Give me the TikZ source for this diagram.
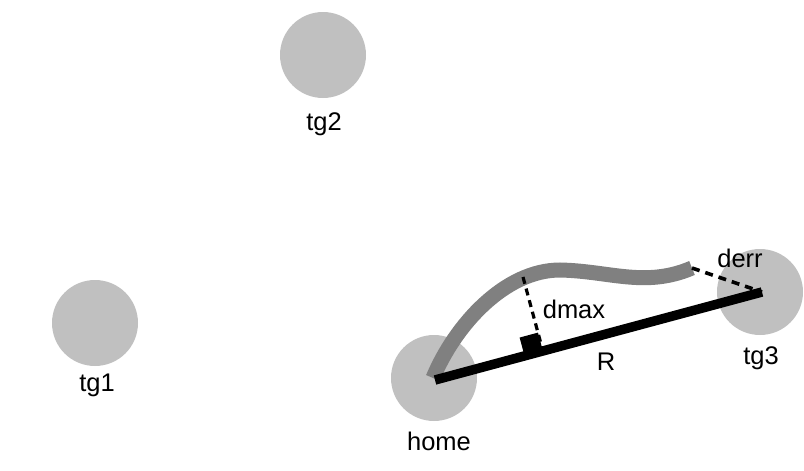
\documentclass[tikz,border=0pt]{standalone}
\usepackage{fontspec}
\setmainfont{Liberation Sans}
\usetikzlibrary{calc}
\definecolor{dotgray}{RGB}{192,192,192}
\definecolor{pathgray}{RGB}{128,128,128}
\tikzset{
  target/.style={circle,fill=dotgray,draw=none,minimum size=86pt,inner sep=0pt},
  lbl/.style={inner sep=0pt,font=\fontsize{25.5}{25.5}\selectfont},
  pathline/.style={draw=pathgray,line width=15pt},
  rline/.style={draw=black,line width=9.5pt},
  dashline/.style={draw=black,line width=3.2pt,dash pattern=on 7pt off 5pt},
}
\begin{document}
\begin{tikzpicture}[x=1pt,y=-1pt]
\useasboundingbox (0,0) rectangle (804,471);
% targets
\node[target] (tg2) at (323,55) {};
\node[target] (tg1) at (95,323) {};
\node[target] (home) at (434,378) {};
\node[target] (tg3) at (760,292) {};
\node[lbl] (tg2l) at (324,124) {tg2};
\node[lbl] (tg1l) at (97,385) {tg1};
\node[lbl] (homel) at (439,441) {home};
\node[lbl] (tg3l) at (761,358) {tg3};
% key points
\coordinate (hp) at (435,380);
\coordinate (tp) at (762,292);
\coordinate (cs) at (433,378);
\coordinate (cm) at (560,270);
\coordinate (ce) at (692,268);
\coordinate (dtop) at (523,277);
% travelled path
\draw[pathline] (cs) .. controls (455,325) and (505,270) .. (cm)
  .. controls (610,271) and (645,288) .. (ce);
% straight line R
\draw[rline] (hp) -- (tp);
% dmax
\coordinate (foot) at ($(hp)!(dtop)!(tp)$);
\coordinate (sqa) at ($(foot)!19pt!(hp)$);
\coordinate (sqc) at ($(foot)!19pt!(dtop)$);
\fill[black] (foot) -- (sqa) -- ($(sqa)+(sqc)-(foot)$) -- (sqc) -- cycle;
\draw[dashline] (dtop) -- (foot);
% derr
\draw[dashline,dash pattern=on 8pt off 6pt,line width=3.6pt] (ce) -- (tp);
% labels
\node[lbl] (dmaxl) at (574,309) {dmax};
\node[lbl] (rl) at (606,362) {R};
\node[lbl] (derrl) at (740,258) {derr};
\end{tikzpicture}
\end{document}
